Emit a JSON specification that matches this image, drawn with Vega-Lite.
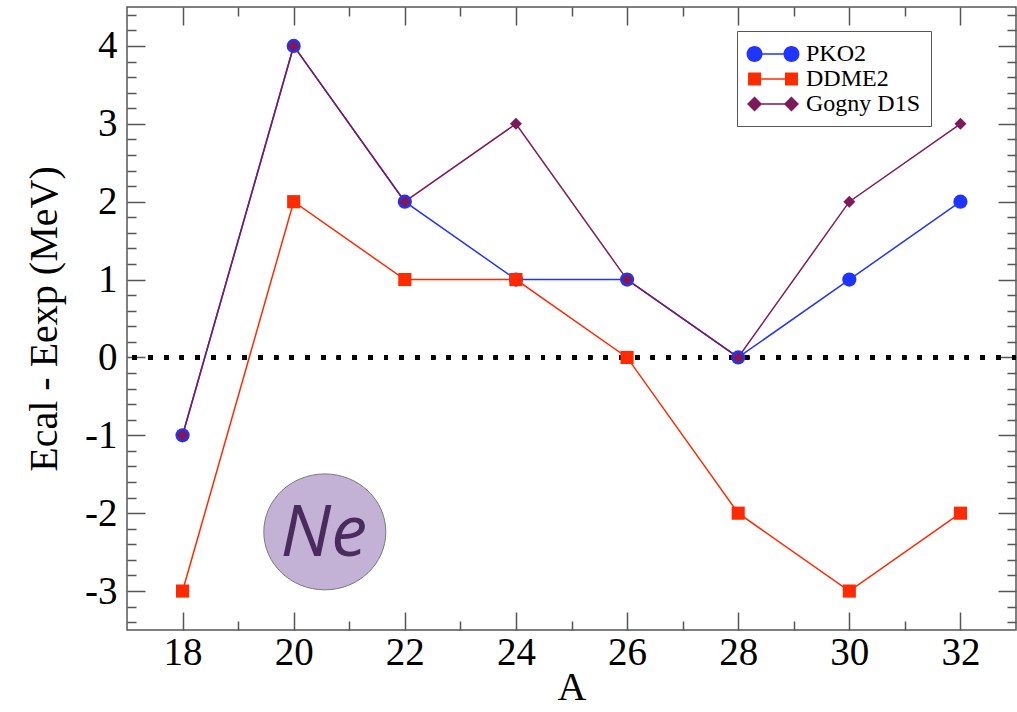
{
  "$schema": "https://vega.github.io/schema/vega-lite/v6.json",
  "autosize": "none",
  "width": 889,
  "height": 623,
  "padding": {"left": 127, "top": 7, "right": 1, "bottom": 82},
  "background": "white",
  "config": {
    "view": {"stroke": "#555555", "strokeWidth": 1.5},
    "axis": {"domain": false, "grid": false, "tickColor": "#555555", "tickWidth": 1.5, "labelColor": "black", "titleColor": "black", "labelFont": "Liberation Serif", "titleFont": "Liberation Serif", "titleFontWeight": "normal"}
  },
  "data": {
    "values": [
      {"A": 18, "E": -1, "series": "PKO2"},
      {"A": 20, "E": 4, "series": "PKO2"},
      {"A": 22, "E": 2, "series": "PKO2"},
      {"A": 24, "E": 1, "series": "PKO2"},
      {"A": 26, "E": 1, "series": "PKO2"},
      {"A": 28, "E": 0, "series": "PKO2"},
      {"A": 30, "E": 1, "series": "PKO2"},
      {"A": 32, "E": 2, "series": "PKO2"},
      {"A": 18, "E": -3, "series": "DDME2"},
      {"A": 20, "E": 2, "series": "DDME2"},
      {"A": 22, "E": 1, "series": "DDME2"},
      {"A": 24, "E": 1, "series": "DDME2"},
      {"A": 26, "E": 0, "series": "DDME2"},
      {"A": 28, "E": -2, "series": "DDME2"},
      {"A": 30, "E": -3, "series": "DDME2"},
      {"A": 32, "E": -2, "series": "DDME2"},
      {"A": 18, "E": -1, "series": "Gogny D1S"},
      {"A": 20, "E": 4, "series": "Gogny D1S"},
      {"A": 22, "E": 2, "series": "Gogny D1S"},
      {"A": 24, "E": 3, "series": "Gogny D1S"},
      {"A": 26, "E": 1, "series": "Gogny D1S"},
      {"A": 28, "E": 0, "series": "Gogny D1S"},
      {"A": 30, "E": 2, "series": "Gogny D1S"},
      {"A": 32, "E": 3, "series": "Gogny D1S"}
    ]
  },
  "resolve": {
    "axis": {"x": "independent", "y": "independent"},
    "scale": {"shape": "independent", "fill": "independent"}
  },
  "layer": [
    {
      "mark": {"type": "rule", "color": "black", "strokeWidth": 4, "strokeDash": [4, 11.7]},
      "encoding": {
        "y": {"datum": 0, "type": "quantitative", "scale": {"domain": [-3.5, 4.5], "nice": false, "zero": false}, "axis": null}
      }
    },
    {
      "data": {"values": [{"A": 20.56, "E": -2.24, "label": "Ne"}]},
      "mark": {"type": "point", "filled": true, "opacity": 1, "fill": "#c4b2d6", "stroke": "#7a7a7a", "strokeWidth": 1, "size": 14884, "shape": "M-1,0A1,0.95 0 1,0 1,0A1,0.95 0 1,0 -1,0Z"},
      "encoding": {
        "x": {"field": "A", "type": "quantitative", "axis": {"orient": "bottom", "values": [19, 21, 23, 25, 27, 29, 31], "labels": false, "tickSize": -9, "title": null}},
        "y": {"field": "E", "type": "quantitative", "axis": {"orient": "left", "values": [-3.4, -3.2, -2.8, -2.6, -2.4, -2.2, -1.8, -1.6, -1.4, -1.2, -0.8, -0.6, -0.4, -0.2, 0.2, 0.4, 0.6, 0.8, 1.2, 1.4, 1.6, 1.8, 2.2, 2.4, 2.6, 2.8, 3.2, 3.4, 3.6, 3.8, 4.2, 4.4], "labels": false, "tickSize": -9, "title": null}}
      }
    },
    {
      "data": {"values": [{"A": 20.56, "E": -2.24, "label": "Ne"}]},
      "mark": {"type": "text", "font": "Open Sans", "fontStyle": "italic", "fontSize": 72, "color": "#4a2b5e", "align": "center", "baseline": "middle", "dx": -1, "dy": 2},
      "encoding": {
        "x": {"field": "A", "type": "quantitative", "axis": {"orient": "top", "values": [18, 20, 22, 24, 26, 28, 30, 32], "labels": false, "tickSize": -18, "title": null}},
        "y": {"field": "E", "type": "quantitative", "axis": {"orient": "right", "values": [-3, -2, -1, 0, 1, 2, 3, 4], "labels": false, "tickSize": -18, "title": null}},
        "text": {"field": "label"}
      }
    },
    {
      "mark": {"type": "line", "strokeWidth": 1.5},
      "encoding": {
        "x": {"field": "A", "type": "quantitative", "scale": {"domain": [17, 33], "nice": false, "zero": false},
          "axis": {"orient": "bottom", "values": [18, 20, 22, 24, 26, 28, 30, 32], "ticks": false, "labelFontSize": 39, "labelPadding": 3, "title": "A", "titleFontSize": 40, "titlePadding": -5}},
        "y": {"field": "E", "type": "quantitative", "scale": {"domain": [-3.5, 4.5], "nice": false, "zero": false},
          "axis": {"orient": "left", "values": [-3, -2, -1, 0, 1, 2, 3, 4], "ticks": false, "labelFontSize": 39, "labelPadding": 10, "labelExpr": "'' + datum.value", "title": "Ecal - Eexp (MeV)", "titleFontSize": 40, "titlePadding": 20}},
        "color": {"field": "series", "type": "nominal", "scale": {"domain": ["PKO2", "DDME2", "Gogny D1S"], "range": ["#2034ff", "#ff2a00", "#7e1a5a"]}, "legend": null},
        "detail": {"field": "series"}
      }
    },
    {
      "mark": {"type": "point", "filled": true, "opacity": 1},
      "encoding": {
        "x": {"field": "A", "type": "quantitative", "axis": {"orient": "bottom", "values": [18, 20, 22, 24, 26, 28, 30, 32], "labels": false, "tickSize": -18, "title": null}},
        "y": {"field": "E", "type": "quantitative", "axis": {"orient": "left", "values": [-3, -2, -1, 0, 1, 2, 3, 4], "labels": false, "tickSize": -18, "title": null}},
        "color": {"field": "series", "type": "nominal", "legend": null},
        "shape": {"field": "series", "type": "nominal", "scale": {"domain": ["PKO2", "DDME2", "Gogny D1S"], "range": ["circle", "square", "diamond"]}, "legend": null},
        "size": {"field": "series", "type": "nominal", "scale": {"domain": ["PKO2", "DDME2", "Gogny D1S"], "range": [201, 144, 230]}, "legend": null}
      }
    },
    {
      "data": {"values": []},
      "mark": {"type": "point", "filled": true, "opacity": 1},
      "encoding": {
        "x": {"field": "A", "type": "quantitative", "axis": {"orient": "top", "values": [19, 21, 23, 25, 27, 29, 31], "labels": false, "tickSize": -9, "title": null}},
        "y": {"field": "E", "type": "quantitative", "axis": {"orient": "right", "values": [-3.4, -3.2, -2.8, -2.6, -2.4, -2.2, -1.8, -1.6, -1.4, -1.2, -0.8, -0.6, -0.4, -0.2, 0.2, 0.4, 0.6, 0.8, 1.2, 1.4, 1.6, 1.8, 2.2, 2.4, 2.6, 2.8, 3.2, 3.4, 3.6, 3.8, 4.2, 4.4], "labels": false, "tickSize": -9, "title": null}},
        "fill": {"field": "series", "type": "nominal", "scale": {"domain": ["PKO2", "DDME2", "Gogny D1S"], "range": ["#2034ff", "#ff2a00", "#7e1a5a"]},
          "legend": {"orient": "none", "legendX": 610, "legendY": 24, "title": null, "strokeColor": "#555555", "fillColor": "white", "padding": 10, "labelFont": "Liberation Serif", "labelFontSize": 24, "labelColor": "black", "labelOffset": 33, "symbolSize": 676, "symbolStrokeWidth": 0, "rowPadding": 0}},
        "shape": {"field": "series", "type": "nominal", "scale": {"domain": ["PKO2", "DDME2", "Gogny D1S"], "range": [
          "M-1.035,0A0.615,0.615 0 1,1 0.195,0A0.615,0.615 0 1,1 -1.035,0ZM1.805,0A0.615,0.615 0 1,1 3.035,0A0.615,0.615 0 1,1 1.805,0ZM-0.42,-0.058H2.42V0.058H-0.42Z",
          "M-0.92,-0.5H0.08V0.5H-0.92ZM1.92,-0.5H2.92V0.5H1.92ZM-0.42,-0.058H2.42V0.058H-0.42Z",
          "M-1,0L-0.42,-0.58L0.16,0L-0.42,0.58ZM1.84,0L2.42,-0.58L3,0L2.42,0.58ZM-0.42,-0.058H2.42V0.058H-0.42Z"
        ]},
          "legend": {"orient": "none", "legendX": 610, "legendY": 24, "title": null, "strokeColor": "#555555", "fillColor": "white", "padding": 10, "labelFont": "Liberation Serif", "labelFontSize": 24, "labelColor": "black", "labelOffset": 33, "symbolSize": 676, "symbolStrokeWidth": 0, "rowPadding": 0}}
      }
    }
  ]
}
